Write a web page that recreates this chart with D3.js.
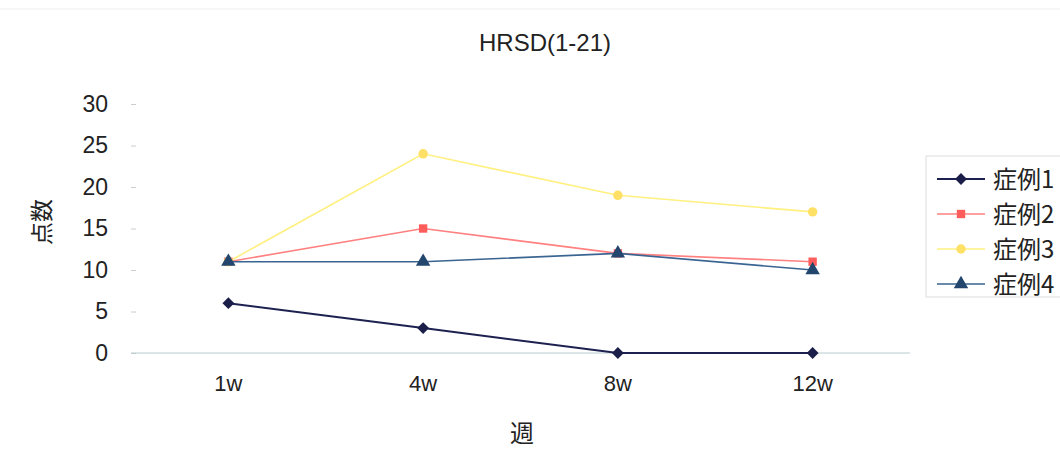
<!DOCTYPE html>
<html>
<head>
<meta charset="utf-8">
<script src="https://cdn.jsdelivr.net/npm/d3@7"></script>
<style>
  body { margin: 0; background: #fff; }
  text { font-family: "Liberation Sans", "Noto Sans CJK JP", sans-serif; fill: #222; }
</style>
</head>
<body>
<div id="chart"></div>
<script>
// chart data
const weeks = ["1w", "4w", "8w", "12w"];
const seriesNames = ["症例1", "症例2", "症例3", "症例4"];
const case1 = [6, 3, 0, 0];
const case2 = [11, 15, 12, 11];
const case3 = [11, 24, 19, 17];
const case4 = [11, 11, 12, 10];
const yTicks = [0, 5, 10, 15, 20, 25, 30];

const allSeries = [case1, case2, case3, case4];
const lineColors = ["#1c2150", "#ff8080", "#fff080", "#3a6491"];
const markColors = ["#1a1e48", "#ff5c5c", "#ffe066", "#23466e"];
const markTypes = [d3.symbolSquare, d3.symbolSquare, d3.symbolCircle, d3.symbolTriangle];
const markSizes = [70, 70, 70, 90];
const markRotate = [45, 0, 0, 0];

const W = 1060, H = 462;
const margin = { top: 104, right: 150, bottom: 109, left: 131 };

const svg = d3.select("#chart").append("svg")
  .attr("width", W)
  .attr("height", H);

svg.append("line")
  .attr("x1", 0).attr("x2", W).attr("y1", 9).attr("y2", 9)
  .attr("stroke", "#eee");

const x = d3.scaleBand()
  .domain(weeks)
  .range([margin.left, W - margin.right]);

const y = d3.scaleLinear()
  .domain([0, 30])
  .range([H - margin.bottom, margin.top]);

// title
svg.append("text")
  .attr("x", 545).attr("y", 51)
  .attr("text-anchor", "middle")
  .style("font-size", "24px")
  .text("HRSD(1-21)");

// y axis
const yAxis = svg.append("g")
  .attr("transform", `translate(${margin.left},0)`)
  .call(d3.axisLeft(y).tickValues(yTicks).tickSize(5).tickPadding(18));
yAxis.select(".domain").remove();
yAxis.selectAll(".tick line").attr("stroke", "#ccc").attr("x1", 0).attr("x2", 5);
yAxis.selectAll(".tick text").style("font-size", "23px").attr("fill", "#222");

// baseline
svg.append("line")
  .attr("x1", margin.left).attr("x2", W - margin.right)
  .attr("y1", y(0)).attr("y2", y(0))
  .attr("stroke", "#b9cccc");

// x axis labels
const xAxis = svg.append("g")
  .attr("transform", `translate(0,${y(0)})`)
  .call(d3.axisBottom(x).tickSize(0).tickPadding(22));
xAxis.select(".domain").remove();
xAxis.selectAll(".tick text").style("font-size", "22px").attr("fill", "#222");

// axis titles
svg.append("text")
  .attr("x", 522).attr("y", 442)
  .attr("text-anchor", "middle")
  .style("font-size", "24px")
  .text("週");

svg.append("text")
  .attr("transform", "translate(50,222) rotate(-90)")
  .attr("text-anchor", "middle")
  .style("font-size", "23px")
  .text("点数");

// lines + markers
const line = d3.line()
  .x((d, i) => x(weeks[i]) + x.bandwidth() / 2)
  .y(d => y(d));

allSeries.forEach((vals, s) => {
  svg.append("path")
    .datum(vals)
    .attr("fill", "none")
    .attr("stroke", lineColors[s])
    .attr("stroke-width", s === 0 ? 2 : 1.6)
    .attr("d", line);
});

allSeries.forEach((vals, s) => {
  svg.append("g").selectAll("path")
    .data(vals)
    .join("path")
    .attr("transform", (d, i) => `translate(${x(weeks[i]) + x.bandwidth() / 2},${y(d)}) rotate(${markRotate[s]})`)
    .attr("d", d3.symbol().type(markTypes[s]).size(markSizes[s]))
    .attr("fill", markColors[s]);
});

// legend
const legend = svg.append("g");
legend.append("rect")
  .attr("x", 926).attr("y", 156)
  .attr("width", 150).attr("height", 141)
  .attr("fill", "#fff")
  .attr("stroke", "#ddd");

seriesNames.forEach((name, s) => {
  const ly = 179 + s * 35;
  legend.append("line")
    .attr("x1", 937).attr("x2", 985)
    .attr("y1", ly).attr("y2", ly)
    .attr("stroke", lineColors[s])
    .attr("stroke-width", s === 0 ? 2 : 1.6);
  legend.append("path")
    .attr("transform", `translate(961,${ly}) rotate(${markRotate[s]})`)
    .attr("d", d3.symbol().type(markTypes[s]).size(markSizes[s]))
    .attr("fill", markColors[s]);
  legend.append("text")
    .attr("x", 993).attr("y", ly)
    .attr("dy", "0.36em")
    .style("font-size", "24px")
    .style("font-family", "'Noto Sans CJK JP', sans-serif")
    .text(name);
});
</script>
</body>
</html>
